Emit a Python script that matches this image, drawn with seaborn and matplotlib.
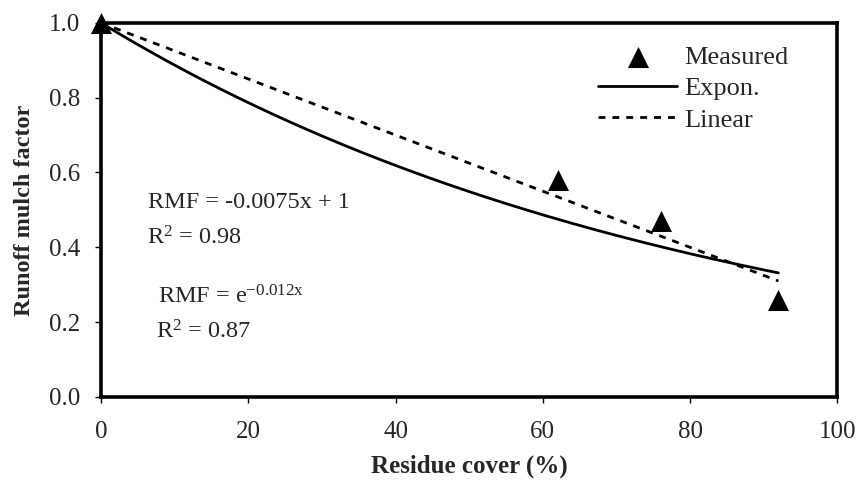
import numpy as np
import pandas as pd
import matplotlib
matplotlib.use("Agg")
import matplotlib.pyplot as plt
import seaborn as sns

# Measured runoff mulch factor against residue cover
residue_cover = [0, 62, 76, 92]
rmf_measured = [1.0, 0.58, 0.47, 0.26]

# Fitted models (coefficients as reported)
lin_slope, lin_intercept = -0.0075, 1.0
exp_rate = -0.012
fit_range = [0, 92]

x_ticks = [0, 20, 40, 60, 80, 100]
y_ticks = [0.0, 0.2, 0.4, 0.6, 0.8, 1.0]

sns.set_theme(style="white")
plt.rcParams["font.family"] = ["Liberation Serif", "DejaVu Serif"]
plt.rcParams["mathtext.fontset"] = "custom"
plt.rcParams["mathtext.rm"] = "Liberation Serif"
plt.rcParams["mathtext.it"] = "Liberation Serif"

fig = plt.figure(figsize=(8.57, 4.87), dpi=100)
ax = fig.add_axes([0.118, 0.185, 0.859, 0.768])

xs = np.linspace(fit_range[0], fit_range[1], 200)
fits = pd.DataFrame({
    "x": xs,
    "expon": np.exp(exp_rate * xs),
    "linear": lin_slope * xs + lin_intercept,
})
meas = pd.DataFrame({"x": residue_cover, "rmf": rmf_measured})

sns.scatterplot(data=meas, x="x", y="rmf", marker="^", s=230, color="black",
                edgecolor="black", linewidth=0, ax=ax, label="Measured",
                zorder=5, clip_on=False)
sns.lineplot(data=fits, x="x", y="expon", color="black", linewidth=2.0,
             ax=ax, label="Expon.")
sns.lineplot(data=fits, x="x", y="linear", color="black", linewidth=2.0,
             linestyle=(0, (2.5, 2.5)), ax=ax, label="Linear")

ax.set_xlim(0, 100)
ax.set_ylim(0, 1.0)
ax.set_xticks(x_ticks)
ax.set_yticks(y_ticks)
ax.set_xticklabels([str(t) for t in x_ticks])
ax.set_yticklabels([f"{t:.1f}" for t in y_ticks])
ax.tick_params(axis="both", which="major", direction="out", length=4,
               width=1, color="black", labelsize=18, bottom=True, left=True)
ax.tick_params(axis="x", pad=13)
ax.tick_params(axis="y", pad=11)

for sp in ax.spines.values():
    sp.set_visible(True)
    sp.set_color("black")
    sp.set_linewidth(2.6)

ax.set_xlabel("Residue cover (%)", fontsize=18, fontweight="bold", labelpad=9)
ax.set_ylabel("Runoff mulch factor", fontsize=17.5, fontweight="bold", labelpad=10)

ax.text(6.4, 0.519, "RMF = -0.0075x + 1", fontsize=17.5, va="center", ha="left")
ax.text(6.2, 0.425, r"R$^2$ = 0.98", fontsize=17.5, va="center", ha="left")
ax.text(7.7, 0.267, r"RMF = e$^{\mathrm{-0.012x}}$", fontsize=17.5, va="center", ha="left")
ax.text(7.5, 0.174, r"R$^2$ = 0.87", fontsize=17.5, va="center", ha="left")

leg = ax.legend(loc="upper left", bbox_to_anchor=(0.675, 0.94), frameon=False,
                fontsize=19, handlelength=3.0, handletextpad=0.25,
                labelspacing=0.3, borderaxespad=0, borderpad=0)

fig.savefig("out.png", dpi=100)
